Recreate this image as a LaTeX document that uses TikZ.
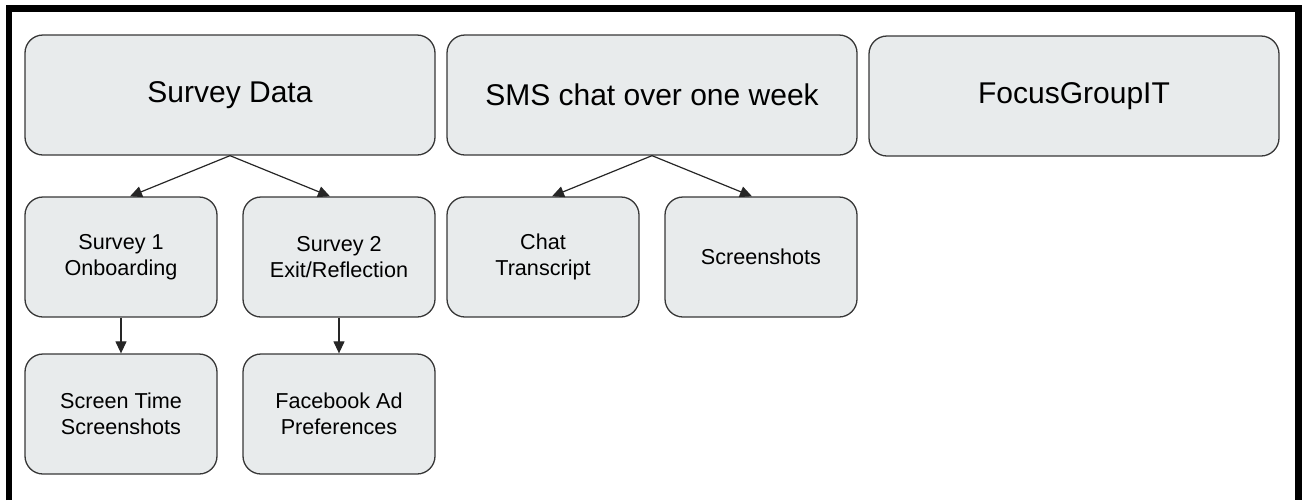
\documentclass[tikz,border=0pt]{standalone}
\usepackage{fontspec}
\setmainfont{Liberation Sans}
\usetikzlibrary{arrows.meta, shapes}

\definecolor{boxfill}{RGB}{232,235,236}
\definecolor{boxline}{RGB}{55,55,55}

\tikzset{
	topbox/.style={draw=boxline, fill=boxfill, line width=0.65pt, rounded corners=9pt,
		minimum width=205pt, minimum height=60pt, inner sep=0pt,
		font=\fontsize{15}{18}\selectfont},
	subbox/.style={draw=boxline, fill=boxfill, line width=0.65pt, rounded corners=9pt,
		minimum width=96pt, minimum height=60pt, inner sep=0pt, align=center,
		font=\fontsize{10.8}{12.85}\selectfont},
	arr/.style={draw=black!85, line width=0.6pt, -{Triangle[length=6pt,width=5.5pt]}}
}

\begin{document}
\begin{tikzpicture}[x=0.5pt, y=-0.5pt]
		\useasboundingbox (0,0) rectangle (1302,500);
		\draw[line width=3.25pt] (9,500) -- (9,8.5) -- (1298.5,8.5) -- (1298.5,500);

		\node[topbox] (sd) at (230,95) {Survey Data};
		\node[topbox] (sms) at (652,95) {SMS chat over one week};
		\node[topbox] (fg) at (1074,96) {FocusGroupIT};

		\node[subbox] (s1) at (121,257) {Survey 1\\Onboarding};
		\node[subbox] (s2) at (339,257) {Survey 2\\Exit/Reflection};
		\node[subbox] (ct) at (543,257) {Chat\\Transcript};
		\node[subbox] (ss) at (761,257) {Screenshots};

		\node[subbox] (st) at (121,414) {Screen Time\\Screenshots};
		\node[subbox] (fb) at (339,414) {Facebook Ad\\Preferences};

		\foreach \p/\c/\d in {sd/s1/4.5pt, sd/s2/-4.5pt, sms/ct/4.5pt, sms/ss/-4.5pt}{
			\draw[arr] (\p.south) -- ([xshift=\d]\c.north);
		}
		\foreach \a/\b in {s1/st, s2/fb}{
			\draw[arr] (\a) -- (\b);
		}
	\end{tikzpicture}
\end{document}
